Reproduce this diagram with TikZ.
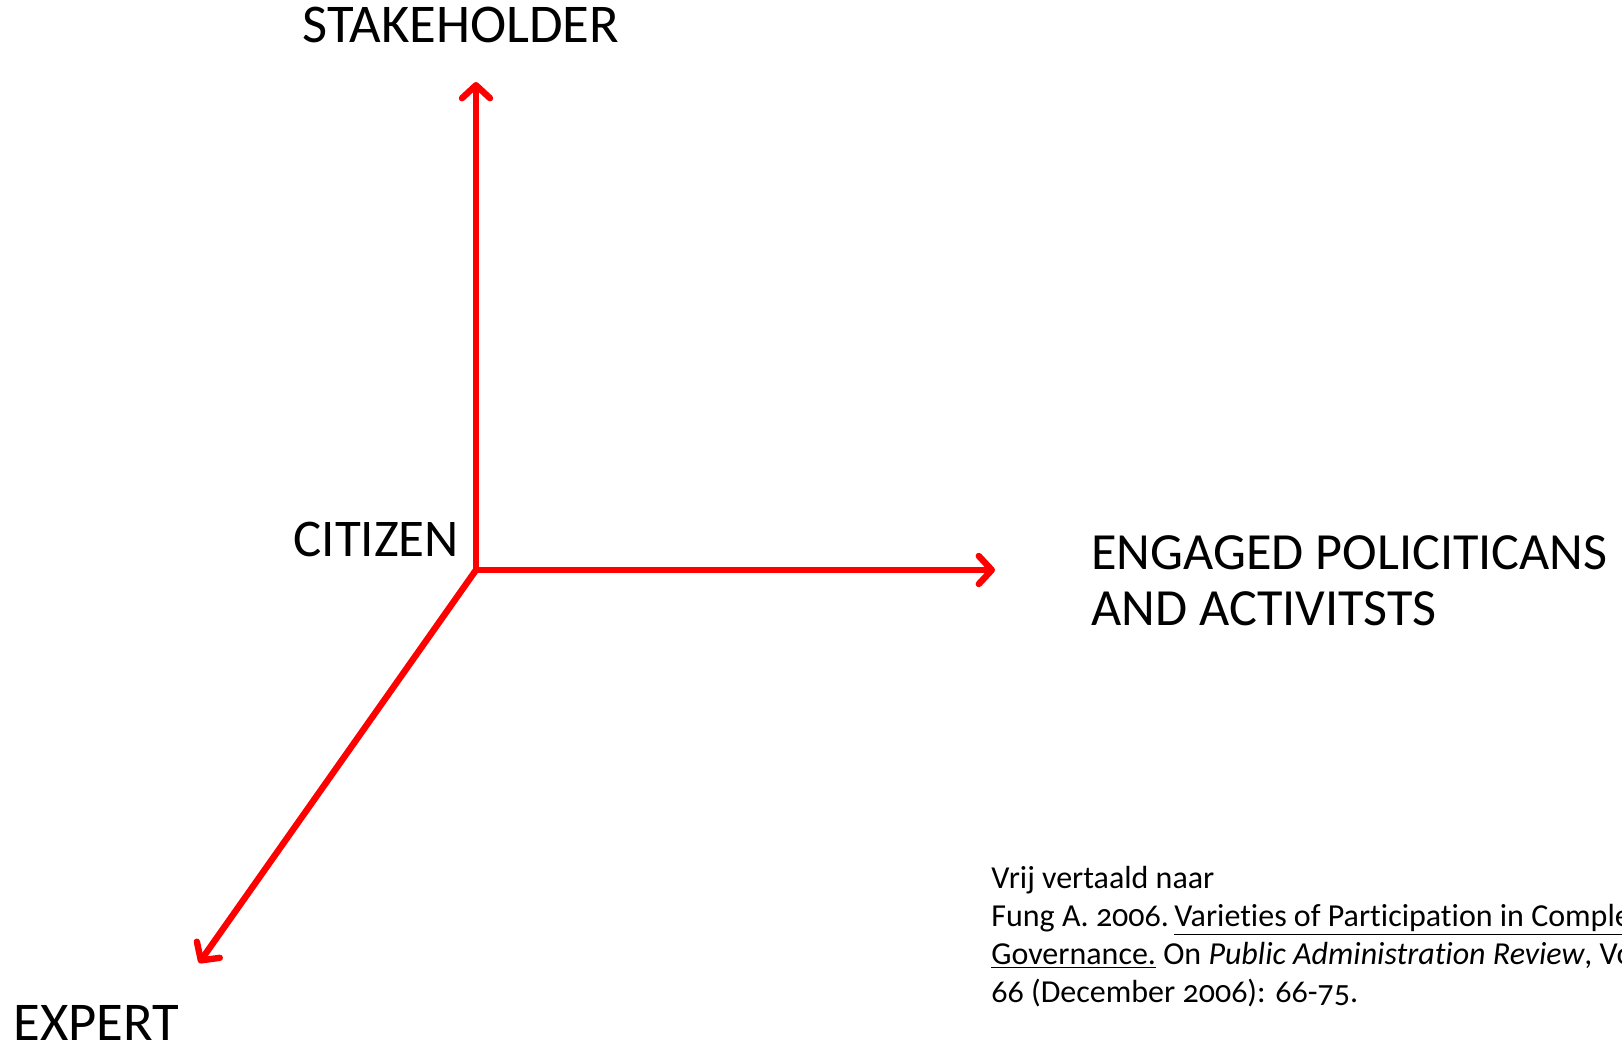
\documentclass[tikz,border=0pt]{standalone}
\usepackage{fontspec}
\setmainfont{Carlito}
\newfontfamily\citefont[Numbers=OldStyle, Ligatures=NoCommon]{Carlito}
\usetikzlibrary{arrows.meta}

\tikzset{
	axis/.style={draw=red, line width=3.2pt, line cap=round, -{Straight Barb[length=6.5pt, width=14pt, line cap=round, line join=round]}},
	label/.style={font=\fontsize{27.3}{28}\selectfont, inner sep=0pt, anchor=base west, align=left},
	cite/.style={font=\citefont\fontsize{16}{19}\selectfont, inner sep=0pt, anchor=base west, align=left}
}

\begin{document}
\begin{tikzpicture}[x=0.5pt, y=-0.5pt]
	\clip (0,0) rectangle (1622,1043);
	\fill[white] (0,0) rectangle (1622,1043);

	\coordinate (o) at (476,570);
	\coordinate (up) at (476,82);
	\coordinate (right) at (995,570);
	\coordinate (down) at (199,963);

	\draw[axis] (o)--(up);
	\draw[axis] (o)--(right);
	\draw[axis] (o)--(down);

	\node[label] (stake) at (302,43){STAKEHOLDER};
	\node[label, font=\fontsize{26.5}{28}\selectfont] (citizen) at (293,556){CITIZEN};
	\node[label, font=\fontsize{26.1}{28}\selectfont] (engaged) at (1091,625){ENGAGED POLICITICANS\\AND ACTIVITSTS};
	\node[label] (expert) at (13,1040){EXPERT};

	\node[cite] (source) at (991,1002){Vrij vertaald naar\\
		Fung A. 2006.\,\underline{Varieties of Participation in Complex}\\
		\underline{Governance.} On \textit{Public Administration Review}, Vol\\
		66 (December 2006): 66-75.};
\end{tikzpicture}
\end{document}
